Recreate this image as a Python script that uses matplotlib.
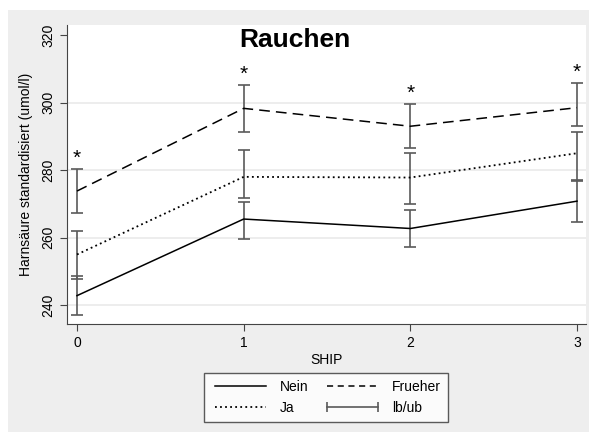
import numpy as np
import matplotlib.pyplot as plt
from matplotlib.lines import Line2D
from matplotlib.patches import Rectangle

# Mittelwerte und Konfidenzgrenzen je SHIP-Welle
ship = [0, 1, 2, 3]
nein = [242.8, 265.5, 262.7, 270.8]
nein_lb = [237.0, 259.6, 257.1, 264.5]
nein_ub = [248.6, 270.6, 268.3, 277.0]
ja = [255.0, 278.0, 277.8, 285.0]
ja_lb = [247.6, 271.6, 270.1, 276.7]
ja_ub = [262.0, 285.9, 285.2, 291.2]
frueher = [273.8, 298.3, 293.0, 298.5]
fr_lb = [267.2, 291.4, 286.6, 293.1]
fr_ub = [280.2, 305.2, 299.5, 305.7]

plt.rcParams['font.family'] = ['Liberation Sans', 'DejaVu Sans']

fig = plt.figure(figsize=(5.89, 4.32), dpi=100, facecolor='white')
fig.patches.append(Rectangle((8 / 589, 0), 1, 1 - 10 / 432, transform=fig.transFigure,
                             facecolor='#eeeeee', edgecolor='none', zorder=-10))
ax = fig.add_axes([67 / 589, 1 - 324 / 432, (586 - 67) / 589, (324 - 25) / 432])
ax.set_facecolor('white')

for yv in [240, 260, 280, 300]:
    ax.axhline(yv, color='#eaeaea', lw=1.2, zorder=0)

ecol = '#5a5a5a'
for mean, lb, ub in [(nein, nein_lb, nein_ub), (ja, ja_lb, ja_ub), (frueher, fr_lb, fr_ub)]:
    m = np.array(mean)
    ax.errorbar(ship, m, yerr=[m - np.array(lb), np.array(ub) - m], fmt='none',
                ecolor=ecol, elinewidth=1.2, capsize=4, capthick=1.2, zorder=2)

ax.plot(ship, nein, color='black', lw=1.1, ls='-', zorder=3)
ax.plot(ship, ja, color='black', lw=1.3, ls=(0, (1, 1.8)), zorder=3)
ax.plot(ship, frueher, color='black', lw=1.1, ls=(0, (7, 4)), zorder=3)

# Signifikanzsterne über der oberen Grenze
for x, u in zip(ship, fr_ub):
    ax.annotate('*', (x, u), xytext=(0, 1), textcoords='offset points',
                ha='center', va='bottom', fontsize=15)

ax.set_xlim(-0.06, 3.054)
ax.set_ylim(234.4, 323.0)
ax.set_xticks(ship)
ax.set_yticks([240, 260, 280, 300, 320])
ax.tick_params(axis='y', labelrotation=90, labelsize=10, color='#444444', length=5)
ax.tick_params(axis='x', labelsize=10, color='#444444', length=5)
for lab in ax.get_yticklabels():
    lab.set_va('center')
for s in ['top', 'right']:
    ax.spines[s].set_visible(False)
for s in ['left', 'bottom']:
    ax.spines[s].set_color('#444444')

ax.set_ylabel('Harnsäure standardisiert (umol/l)', fontsize=10, labelpad=6)
ax.set_xlabel('SHIP', fontsize=10, labelpad=2)
fig.text(295 / 589, 1 - 40 / 432, 'Rauchen', ha='center', va='center',
         fontsize=19, fontweight='bold')

handles = [
    Line2D([], [], color='black', lw=1.1, ls='-'),
    Line2D([], [], color='black', lw=1.3, ls=(0, (1, 1.8))),
    Line2D([], [], color='black', lw=1.1, ls=(0, (4, 3))),
    Line2D([], [], color=ecol, lw=1.2, marker='|', markersize=7, markeredgewidth=1.2),
]
labels = ['Nein', 'Ja', 'Frueher', 'lb/ub']
leg = fig.legend(handles, labels, loc='center', bbox_to_anchor=(326 / 589, 1 - 397.5 / 432),
                 ncol=2, fontsize=10, frameon=True, fancybox=False, numpoints=2,
                 handlelength=4.3, columnspacing=1.0, borderpad=0.5, handletextpad=0.7)
leg.get_frame().set_edgecolor('#333333')
leg.get_frame().set_linewidth(1.0)

fig.savefig('out.png', dpi=100, facecolor=fig.get_facecolor())
